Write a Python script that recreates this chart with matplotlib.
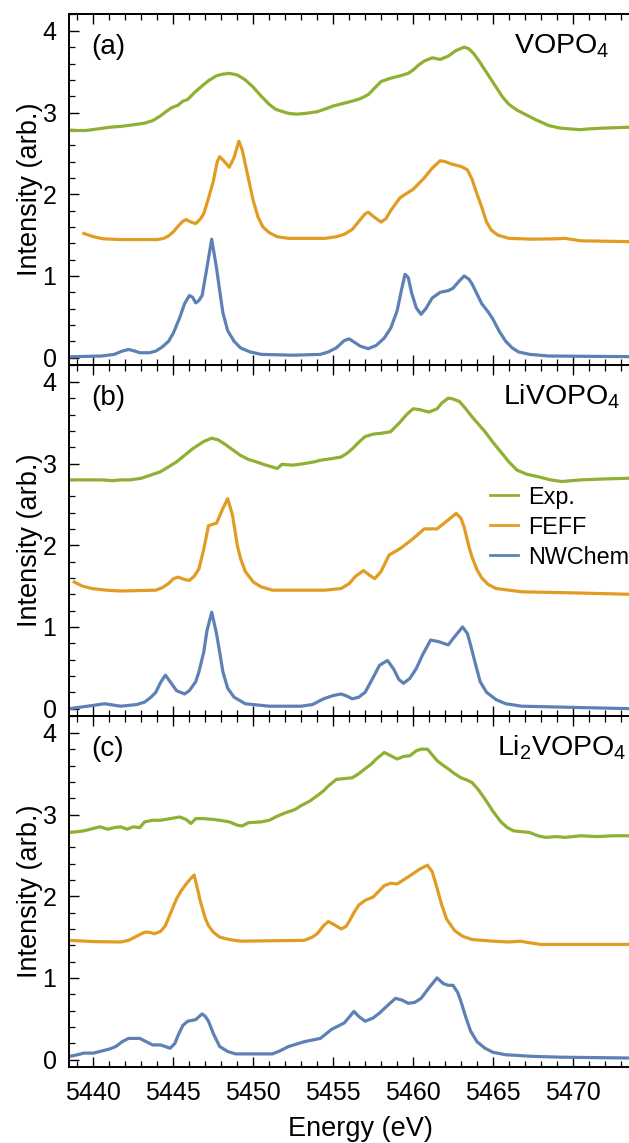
import matplotlib
matplotlib.use("Agg")
import matplotlib.pyplot as plt
from matplotlib.ticker import MultipleLocator

plt.rcParams['font.family'] = ['Liberation Sans', 'DejaVu Sans']
plt.rcParams['mathtext.fontset'] = 'custom'
plt.rcParams['mathtext.rm'] = 'Liberation Sans'
plt.rcParams['mathtext.it'] = 'Liberation Sans'
plt.rcParams['mathtext.default'] = 'regular'

# ---------------- data ----------------
panel_tags = ["(a)", "(b)", "(c)"]
compounds = ["VOPO$_4$", "LiVOPO$_4$", "Li$_2$VOPO$_4$"]
series_names = ["Exp.", "FEFF", "NWChem"]

# Panel (a) VOPO4
a_exp_e = [5438.5, 5439.5, 5440.3, 5441.0, 5441.7, 5442.5, 5443.2, 5443.7, 5444.2, 5444.6, 5444.9,
           5445.3, 5445.6, 5445.9, 5446.3, 5446.7, 5447.2, 5447.7, 5448.1, 5448.5, 5449.0, 5449.5,
           5450.0, 5450.5, 5451.0, 5451.4, 5451.7, 5452.2, 5452.7, 5453.3, 5454.0, 5454.6, 5455.0,
           5455.6, 5456.2, 5456.7, 5457.2, 5457.6, 5458.0, 5458.6, 5459.2, 5459.7, 5460.0, 5460.4,
           5460.7, 5461.2, 5461.7, 5462.2, 5462.7, 5463.2, 5463.5, 5463.8, 5464.1, 5464.5, 5464.9,
           5465.2, 5465.6, 5466.0, 5466.5, 5467.0, 5467.7, 5468.5, 5469.2, 5469.8, 5470.5, 5471.0,
           5472.0, 5473.5, 5475.0]
a_exp_i = [2.78, 2.78, 2.80, 2.82, 2.83, 2.85, 2.87, 2.90, 2.96, 3.02, 3.06,
           3.09, 3.14, 3.16, 3.24, 3.31, 3.39, 3.45, 3.47, 3.48, 3.46, 3.40,
           3.31, 3.20, 3.10, 3.04, 3.02, 2.99, 2.98, 2.99, 3.01, 3.05, 3.08,
           3.11, 3.14, 3.17, 3.22, 3.30, 3.38, 3.42, 3.45, 3.48, 3.52, 3.59,
           3.63, 3.67, 3.65, 3.69, 3.76, 3.80, 3.78, 3.72, 3.64, 3.52, 3.40,
           3.31, 3.19, 3.10, 3.03, 2.98, 2.91, 2.84, 2.81, 2.80, 2.79, 2.80,
           2.81, 2.82, 2.82]
a_feff_e = [5439.4, 5440.0, 5440.6, 5441.7, 5444.0, 5444.4, 5444.7, 5445.0, 5445.3, 5445.6, 5445.8,
            5446.1, 5446.4, 5446.7, 5446.9, 5447.2, 5447.5, 5447.75, 5447.9, 5448.2, 5448.5, 5448.8,
            5449.1, 5449.3, 5449.5, 5449.8, 5450.0, 5450.3, 5450.6, 5451.0, 5451.5, 5452.2, 5454.5,
            5455.2, 5455.7, 5456.2, 5456.7, 5457.0, 5457.2, 5457.5, 5458.0, 5458.3, 5458.6, 5459.2,
            5460.0, 5460.7, 5461.2, 5461.7, 5462.0, 5462.4, 5463.0, 5463.4, 5463.7, 5463.9, 5464.3,
            5464.6, 5464.9, 5465.3, 5466.0, 5467.5, 5469.0, 5469.5, 5470.5, 5473.5, 5475.0]
a_feff_i = [1.52, 1.48, 1.455, 1.445, 1.445, 1.46, 1.49, 1.54, 1.61, 1.67, 1.69,
            1.66, 1.64, 1.70, 1.76, 1.95, 2.16, 2.40, 2.46, 2.40, 2.33, 2.45,
            2.65, 2.55, 2.37, 2.10, 1.92, 1.72, 1.60, 1.53, 1.48, 1.46, 1.46,
            1.48, 1.51, 1.57, 1.69, 1.76, 1.78, 1.73, 1.66, 1.70, 1.80, 1.96,
            2.06, 2.20, 2.32, 2.41, 2.40, 2.37, 2.34, 2.30, 2.18, 2.06, 1.84,
            1.66, 1.56, 1.50, 1.46, 1.45, 1.455, 1.46, 1.43, 1.42, 1.42]
a_nw_e = [5438.5, 5440.5, 5441.3, 5441.8, 5442.2, 5442.6, 5442.9, 5443.5, 5443.9, 5444.3, 5444.7,
          5445.0, 5445.4, 5445.7, 5446.0, 5446.2, 5446.4, 5446.6, 5446.8, 5447.1, 5447.4, 5447.7,
          5447.9, 5448.1, 5448.4, 5448.8, 5449.2, 5449.8, 5450.5, 5452.5, 5454.2, 5454.7, 5455.2,
          5455.7, 5456.0, 5456.4, 5456.7, 5457.2, 5457.7, 5458.2, 5458.6, 5459.0, 5459.3, 5459.5,
          5459.7, 5459.9, 5460.2, 5460.5, 5460.8, 5461.2, 5461.7, 5462.2, 5462.5, 5462.9, 5463.2,
          5463.5, 5463.7, 5464.0, 5464.3, 5464.7, 5465.0, 5465.4, 5465.8, 5466.2, 5466.6, 5467.3,
          5468.5, 5475.0]
a_nw_i = [0.01, 0.02, 0.04, 0.08, 0.10, 0.08, 0.06, 0.06, 0.08, 0.13, 0.20,
          0.30, 0.49, 0.66, 0.76, 0.74, 0.67, 0.70, 0.76, 1.10, 1.45, 1.10,
          0.82, 0.55, 0.33, 0.20, 0.12, 0.07, 0.04, 0.03, 0.04, 0.07, 0.12,
          0.21, 0.23, 0.18, 0.14, 0.11, 0.15, 0.24, 0.36, 0.57, 0.85, 1.02,
          0.98, 0.80, 0.61, 0.53, 0.60, 0.73, 0.80, 0.82, 0.85, 0.94, 1.00,
          0.96, 0.90, 0.78, 0.66, 0.56, 0.47, 0.32, 0.20, 0.12, 0.07, 0.04,
          0.02, 0.01]

# Panel (b) LiVOPO4
b_exp_e = [5438.5, 5439.5, 5440.5, 5441.2, 5441.7, 5442.3, 5443.0, 5443.6, 5444.2, 5444.7, 5445.2,
           5445.7, 5446.2, 5446.9, 5447.4, 5447.8, 5448.2, 5448.7, 5449.2, 5449.7, 5450.2, 5450.8,
           5451.5, 5451.8, 5452.5, 5453.2, 5453.8, 5454.2, 5454.9, 5455.5, 5455.9, 5456.2, 5456.6,
           5457.0, 5457.5, 5458.0, 5458.6, 5459.2, 5459.6, 5460.0, 5460.4, 5461.0, 5461.5, 5461.8,
           5462.2, 5462.5, 5462.9, 5463.3, 5463.7, 5464.1, 5464.5, 5465.0, 5465.5, 5466.0, 5466.5,
           5467.1, 5467.8, 5468.6, 5469.3, 5470.5, 5471.8, 5473.5, 5475.0]
b_exp_i = [2.80, 2.80, 2.80, 2.79, 2.80, 2.80, 2.82, 2.86, 2.90, 2.96, 3.02,
           3.10, 3.18, 3.27, 3.31, 3.29, 3.24, 3.17, 3.10, 3.05, 3.02, 2.98,
           2.94, 2.99, 2.98, 3.00, 3.02, 3.04, 3.06, 3.08, 3.13, 3.18, 3.26,
           3.33, 3.36, 3.37, 3.39, 3.51, 3.60, 3.67, 3.66, 3.63, 3.67, 3.74,
           3.80, 3.79, 3.76, 3.67, 3.57, 3.48, 3.39, 3.26, 3.14, 3.02, 2.92,
           2.87, 2.84, 2.80, 2.78, 2.80, 2.81, 2.82, 2.82]
b_feff_e = [5438.8, 5439.3, 5439.9, 5440.8, 5441.7, 5443.9, 5444.3, 5444.7, 5445.0, 5445.3, 5445.7,
            5446.0, 5446.3, 5446.6, 5446.9, 5447.2, 5447.7, 5448.1, 5448.4, 5448.7, 5449.0, 5449.2,
            5449.5, 5450.0, 5450.5, 5451.2, 5454.5, 5455.5, 5456.0, 5456.4, 5456.9, 5457.3, 5457.6,
            5458.0, 5458.5, 5459.2, 5460.0, 5460.7, 5461.5, 5462.2, 5462.7, 5463.0, 5463.2, 5463.5,
            5463.7, 5464.0, 5464.3, 5464.7, 5465.2, 5466.8, 5469.3, 5473.5, 5475.0]
b_feff_i = [1.55, 1.50, 1.47, 1.45, 1.44, 1.45, 1.48, 1.53, 1.59, 1.61, 1.58,
            1.57, 1.62, 1.71, 1.95, 2.24, 2.27, 2.45, 2.57, 2.37, 2.00, 1.84,
            1.68, 1.55, 1.49, 1.45, 1.45, 1.47, 1.53, 1.62, 1.69, 1.63, 1.59,
            1.68, 1.88, 1.96, 2.08, 2.20, 2.20, 2.31, 2.39, 2.33, 2.22, 1.98,
            1.85, 1.70, 1.60, 1.52, 1.47, 1.43, 1.42, 1.40, 1.40]
b_nw_e = [5438.5, 5440.0, 5440.7, 5441.7, 5442.7, 5443.2, 5443.6, 5443.9, 5444.2, 5444.5, 5444.8,
          5445.2, 5445.7, 5446.0, 5446.4, 5446.6, 5446.9, 5447.1, 5447.4, 5447.7, 5447.9, 5448.1,
          5448.4, 5448.8, 5449.5, 5451.0, 5453.0, 5453.7, 5454.4, 5455.0, 5455.5, 5455.9, 5456.2,
          5456.6, 5457.0, 5457.5, 5457.9, 5458.4, 5458.8, 5459.1, 5459.4, 5459.8, 5460.2, 5460.6,
          5461.1, 5461.6, 5462.2, 5462.6, 5463.1, 5463.4, 5463.6, 5463.9, 5464.2, 5464.6, 5465.2,
          5465.8, 5466.8, 5473.5, 5475.0]
b_nw_i = [0.00, 0.04, 0.06, 0.03, 0.05, 0.08, 0.14, 0.20, 0.32, 0.41, 0.33,
          0.22, 0.18, 0.22, 0.33, 0.45, 0.69, 0.95, 1.18, 0.92, 0.69, 0.45,
          0.25, 0.14, 0.06, 0.03, 0.03, 0.05, 0.12, 0.16, 0.18, 0.15, 0.12,
          0.14, 0.20, 0.38, 0.53, 0.59, 0.48, 0.36, 0.31, 0.37, 0.49, 0.66,
          0.84, 0.82, 0.78, 0.88, 1.00, 0.92, 0.78, 0.55, 0.33, 0.20, 0.11,
          0.06, 0.03, 0.00, 0.00]

# Panel (c) Li2VOPO4
c_exp_e = [5438.5, 5439.0, 5439.4, 5439.8, 5440.4, 5440.9, 5441.3, 5441.7, 5442.1, 5442.5, 5442.9,
           5443.2, 5443.7, 5444.2, 5444.8, 5445.4, 5445.8, 5446.1, 5446.4, 5446.9, 5447.5, 5447.9,
           5448.5, 5449.0, 5449.3, 5449.7, 5450.5, 5451.0, 5451.5, 5452.0, 5452.6, 5453.0, 5453.5,
           5454.0, 5454.4, 5454.7, 5455.2, 5455.7, 5456.2, 5456.6, 5457.0, 5457.4, 5457.7, 5458.2,
           5458.6, 5459.0, 5459.4, 5459.8, 5460.2, 5460.5, 5460.9, 5461.2, 5461.5, 5461.9, 5462.2,
           5462.6, 5463.0, 5463.4, 5463.7, 5464.1, 5464.5, 5465.0, 5465.5, 5465.9, 5466.3, 5466.8,
           5467.3, 5467.8, 5468.3, 5469.0, 5469.5, 5470.5, 5471.5, 5472.5, 5473.5, 5475.0]
c_exp_i = [2.78, 2.79, 2.80, 2.82, 2.85, 2.82, 2.84, 2.85, 2.82, 2.85, 2.84,
           2.91, 2.93, 2.93, 2.95, 2.97, 2.94, 2.89, 2.95, 2.95, 2.94, 2.93,
           2.91, 2.87, 2.86, 2.90, 2.91, 2.93, 2.98, 3.02, 3.06, 3.11, 3.16,
           3.23, 3.29, 3.35, 3.43, 3.44, 3.45, 3.50, 3.56, 3.62, 3.68, 3.76,
           3.72, 3.68, 3.71, 3.72, 3.78, 3.80, 3.80, 3.73, 3.66, 3.60, 3.56,
           3.50, 3.45, 3.42, 3.39, 3.30, 3.19, 3.04, 2.91, 2.84, 2.80, 2.79,
           2.78, 2.74, 2.72, 2.73, 2.72, 2.74, 2.73, 2.74, 2.74, 2.74]
c_feff_e = [5438.5, 5440.0, 5441.7, 5442.2, 5442.6, 5443.2, 5443.5, 5443.8, 5444.2, 5444.5, 5444.8,
            5445.2, 5445.5, 5445.8, 5446.1, 5446.3, 5446.5, 5446.7, 5447.0, 5447.2, 5447.5, 5447.9,
            5448.5, 5449.2, 5453.2, 5453.7, 5454.0, 5454.4, 5454.7, 5455.0, 5455.5, 5455.8, 5456.0,
            5456.3, 5456.6, 5457.0, 5457.5, 5458.2, 5458.6, 5459.0, 5459.4, 5459.8, 5460.4, 5460.9,
            5461.2, 5461.5, 5461.8, 5462.1, 5462.6, 5463.1, 5463.7, 5465.0, 5466.0, 5466.7, 5467.3,
            5468.0, 5473.5, 5475.0]
c_feff_i = [1.46, 1.445, 1.44, 1.46, 1.50, 1.56, 1.56, 1.54, 1.57, 1.64, 1.78,
            1.97, 2.07, 2.15, 2.22, 2.26, 2.10, 1.93, 1.73, 1.64, 1.56, 1.50,
            1.47, 1.45, 1.46, 1.50, 1.54, 1.64, 1.69, 1.66, 1.60, 1.63, 1.69,
            1.80, 1.89, 1.95, 1.99, 2.13, 2.16, 2.15, 2.20, 2.25, 2.33, 2.38,
            2.30, 2.10, 1.89, 1.72, 1.58, 1.51, 1.47, 1.45, 1.44, 1.45, 1.43,
            1.41, 1.41, 1.41]
c_nw_e = [5438.5, 5439.0, 5439.4, 5440.0, 5440.4, 5441.0, 5441.4, 5441.8, 5442.2, 5442.9, 5443.3,
          5443.7, 5444.2, 5444.8, 5445.1, 5445.3, 5445.6, 5445.9, 5446.4, 5446.8, 5447.0, 5447.2,
          5447.5, 5447.9, 5448.4, 5448.9, 5451.2, 5451.7, 5452.2, 5453.2, 5454.2, 5454.9, 5455.4,
          5455.7, 5456.0, 5456.3, 5456.6, 5457.0, 5457.5, 5457.9, 5458.5, 5458.9, 5459.3, 5459.7,
          5460.1, 5460.5, 5461.0, 5461.5, 5461.9, 5462.2, 5462.5, 5462.8, 5463.0, 5463.3, 5463.6,
          5464.0, 5464.5, 5465.0, 5465.8, 5467.5, 5469.3, 5473.5, 5475.0]
c_nw_i = [0.04, 0.06, 0.08, 0.08, 0.10, 0.13, 0.16, 0.22, 0.26, 0.26, 0.22,
          0.18, 0.18, 0.14, 0.20, 0.30, 0.42, 0.47, 0.49, 0.56, 0.53, 0.47,
          0.32, 0.16, 0.10, 0.07, 0.07, 0.11, 0.16, 0.22, 0.26, 0.37, 0.42,
          0.45, 0.52, 0.59, 0.53, 0.47, 0.51, 0.57, 0.68, 0.75, 0.73, 0.69,
          0.70, 0.75, 0.88, 1.00, 0.93, 0.91, 0.91, 0.82, 0.71, 0.52, 0.35,
          0.22, 0.14, 0.09, 0.06, 0.04, 0.03, 0.02, 0.02]

panels = [
    [(a_exp_e, a_exp_i), (a_feff_e, a_feff_i), (a_nw_e, a_nw_i)],
    [(b_exp_e, b_exp_i), (b_feff_e, b_feff_i), (b_nw_e, b_nw_i)],
    [(c_exp_e, c_exp_i), (c_feff_e, c_feff_i), (c_nw_e, c_nw_i)],
]

x_major = [5440, 5445, 5450, 5455, 5460, 5465, 5470]
y_major = [0, 1, 2, 3, 4]

# ---------------- style ----------------
colors = ["#8FB032", "#E19C24", "#5E81B5"]
W, H = 629, 1143
fig = plt.figure(figsize=(W / 100, H / 100), dpi=100)

left = 69 / W
xlim = (5438.47, 5475.0)
width = (xlim[1] - xlim[0]) * 15.98 / W
ph = 351 / H
bottom0 = 76 / H

axes = []
for k in range(3):
    b = bottom0 + (2 - k) * ph
    ax = fig.add_axes([left, b, width, ph])
    axes.append(ax)
    for (e, i), col, name in zip(panels[k], colors, series_names):
        ax.plot(e, i, color=col, lw=2.3, label=name, solid_joinstyle='round')
    ax.set_xlim(*xlim)
    ax.set_ylim(-0.09, 4.206)
    ax.set_xticks(x_major)
    ax.set_yticks(y_major)
    ax.xaxis.set_minor_locator(MultipleLocator(1))
    ax.yaxis.set_minor_locator(MultipleLocator(0.2))
    ax.tick_params(which='both', direction='in', top=True, right=False,
                   labelsize=18, colors='black')
    ax.tick_params(which='major', length=7, width=1.0)
    ax.tick_params(which='minor', length=4, width=0.9)
    ax.tick_params(axis='y', pad=9)
    ax.tick_params(axis='x', pad=10)
    for s in ax.spines.values():
        s.set_linewidth(1.4)
    ax.set_ylabel("Intensity (arb.)", fontsize=19.5, labelpad=-0.5)
    ax.text(5439.89, 3.72, panel_tags[k], fontsize=20, ha='left', va='baseline')
    ax.text(5469.3, 3.72, compounds[k], fontsize=20.5, ha='center', va='baseline')
    if k < 2:
        ax.tick_params(axis='x', labelbottom=False)

axes[2].set_xlabel("Energy (eV)", fontsize=19.5, labelpad=8)

leg = axes[1].legend(loc='center left', bbox_to_anchor=(0.721, 0.538), frameon=False,
                     fontsize=16.8, handlelength=1.2, handletextpad=0.43, labelspacing=0.3,
                     borderpad=0, borderaxespad=0)
for h in leg.get_lines():
    h.set_linewidth(2.0)

fig.savefig("out.png", dpi=100)
